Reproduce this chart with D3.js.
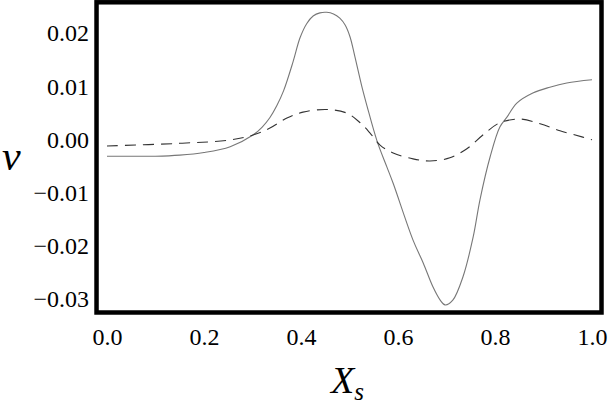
<!DOCTYPE html>
<html><head><meta charset="utf-8">
<script src="https://cdn.jsdelivr.net/npm/d3@7"></script>
<style>body{margin:0;background:#fff}svg{display:block}</style>
</head><body>
<svg id="c" width="609" height="406"></svg>
<script>
const solidX = [0.000,0.050,0.100,0.150,0.200,0.254,0.301,0.320,0.336,0.350,0.364,0.384,0.398,0.412,0.425,0.439,0.453,0.467,0.480,0.491,0.501,0.511,0.525,0.536,0.557,0.577,0.590,0.631,0.652,0.672,0.687,0.697,0.713,0.734,0.755,0.769,0.790,0.810,0.825,0.845,0.878,0.913,0.948,1.000];
const solidY = [-0.0033,-0.0033,-0.0033,-0.0031,-0.0026,-0.0015,0.0007,0.0022,0.0040,0.0062,0.0090,0.0146,0.0190,0.0217,0.0231,0.0237,0.0238,0.0235,0.0227,0.0214,0.0192,0.0155,0.0100,0.0062,-0.0005,-0.0053,-0.0084,-0.0191,-0.0234,-0.0279,-0.0304,-0.0313,-0.0304,-0.0260,-0.0185,-0.0115,-0.0034,0.0022,0.0041,0.0067,0.0086,0.0097,0.0105,0.0111];
const dashX = [0.000,0.150,0.254,0.301,0.336,0.371,0.404,0.454,0.495,0.522,0.542,0.563,0.590,0.631,0.666,0.707,0.742,0.775,0.810,0.852,0.893,0.934,0.981,1.000];
const dashY = [-0.00137,-0.00087,-0.00024,0.0007,0.0020,0.0039,0.0050,0.0055,0.0048,0.0030,0.0011,-0.0012,-0.0027,-0.0038,-0.0042,-0.0036,-0.0019,0.0007,0.0030,0.0037,0.0028,0.0015,0.0003,-0.0002];
const xTicks = [0.0,0.2,0.4,0.6,0.8,1.0];
const yTicks = [-0.03,-0.02,-0.01,0.00,0.01,0.02];

const svg = d3.select("#c");
const x = d3.scaleLinear().domain([0,1]).range([107,592]);
const y = d3.scaleLinear().domain([-0.03,0.02]).range([298,32.5]);
const xFrame = [-0.0216, 1.0196], yFrame = [-0.03273, 0.02569];
const font = "Liberation Serif";

const solid = solidX.map((v,i)=>[v,solidY[i]]);
const dashed = dashX.map((v,i)=>[v,dashY[i]]);
const line = d3.line().x(d=>x(d[0])).y(d=>y(d[1])).curve(d3.curveCatmullRom.alpha(0.5));

svg.append("path").attr("d",line(solid)).attr("fill","none").attr("stroke","#777").attr("stroke-width",1.1);
svg.append("path").attr("d",line(dashed)).attr("fill","none").attr("stroke","#333").attr("stroke-width",1.1).attr("stroke-dasharray","11,7");

svg.append("rect").attr("x",x(xFrame[0])).attr("y",y(yFrame[1]))
  .attr("width",x(xFrame[1])-x(xFrame[0])).attr("height",y(yFrame[0])-y(yFrame[1]))
  .attr("fill","none").attr("stroke","#000").attr("stroke-width",4.5);

const xAxis = d3.axisBottom(x).tickValues(xTicks).tickFormat(d3.format(".1f")).tickSize(0).tickPadding(0);
svg.append("g").attr("transform","translate(0,328)").call(xAxis)
  .attr("font-family",font).attr("font-size",24)
  .call(g=>g.select(".domain").remove())
  .call(g=>g.selectAll("text").attr("font-family",font).attr("font-size",24).attr("fill","#000").attr("dy","0.71em"));

const yAxis = d3.axisLeft(y).tickValues(yTicks).tickFormat(d3.format(".2f")).tickSize(0).tickPadding(0);
svg.append("g").attr("transform","translate(89,0)").call(yAxis)
  .attr("font-family",font).attr("font-size",24)
  .call(g=>g.select(".domain").remove())
  .call(g=>g.selectAll("text").attr("font-family",font).attr("font-size",24).attr("fill","#000").attr("dy","0.35em"));

svg.append("text").attr("x",2).attr("y",170).attr("font-family",font).attr("font-style","italic").attr("font-size",42).text("v");
const xl = svg.append("text").attr("x",331).attr("y",393).attr("font-family",font).attr("font-style","italic").attr("font-size",38);
xl.append("tspan").text("X");
xl.append("tspan").attr("font-size",25).attr("dy",7).text("s");
</script>
</body></html>
